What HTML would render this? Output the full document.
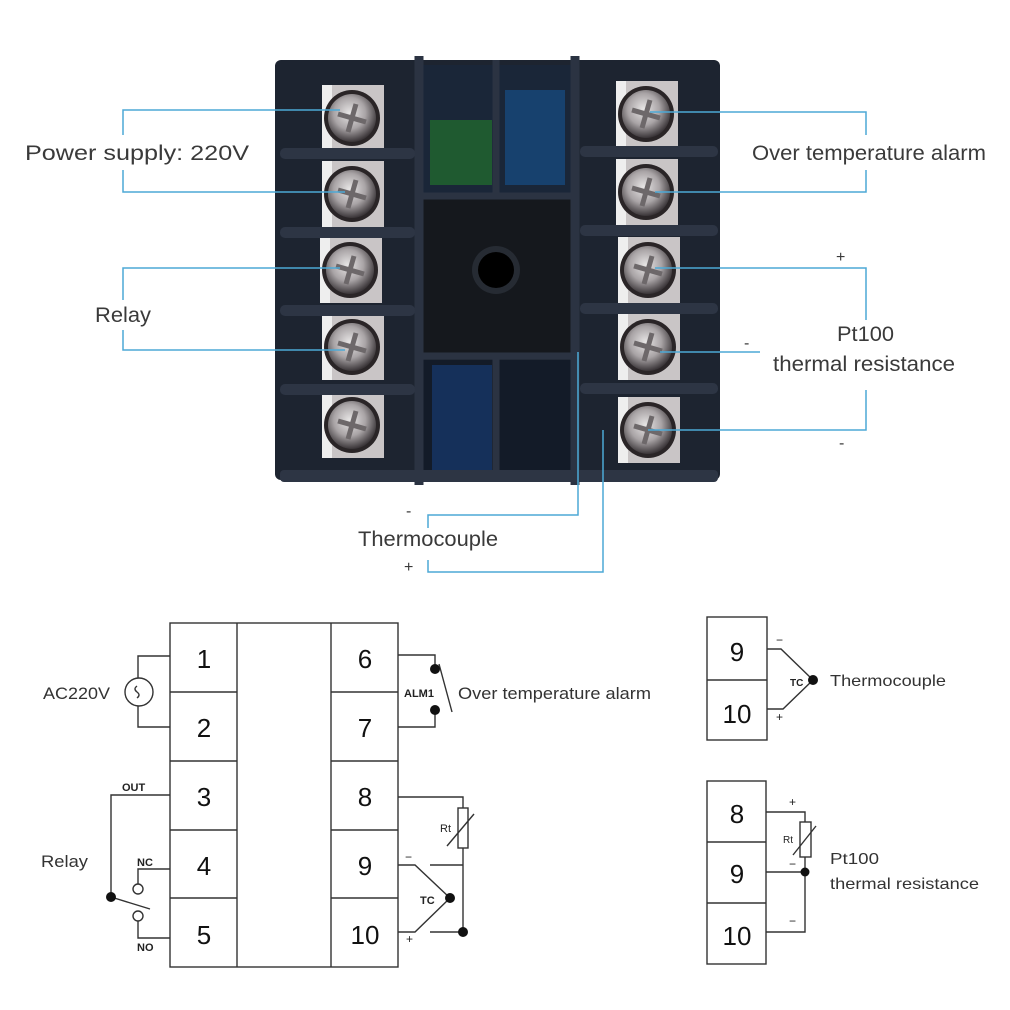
<!DOCTYPE html>
<html><head><style>
html,body{margin:0;padding:0;background:#fff;}
svg{display:block;font-family:"Liberation Sans",Arial,sans-serif;}
</style></head><body>
<svg width="1010" height="1010" viewBox="0 0 1010 1010" xmlns="http://www.w3.org/2000/svg">
<defs>
<radialGradient id="sc" cx="45%" cy="40%" r="60%">
<stop offset="0" stop-color="#e8e6e6"/><stop offset="0.55" stop-color="#a9a4a6"/><stop offset="1" stop-color="#3a3538"/>
</radialGradient>
<g id="term">
<rect x="-30" y="-33" width="62" height="66" fill="#c9c5c6"/>
<rect x="-30" y="-33" width="10" height="66" fill="#eeeeee"/>
<circle r="28" fill="#2a2527"/>
<circle r="24" fill="url(#sc)"/>
<path d="M-14 -4 L14 4 M-4 14 L4 -14" stroke="#6d686a" stroke-width="5"/>
</g>
</defs>
<rect width="1010" height="1010" fill="#fff"/>
<rect x="275" y="60" width="445" height="420" rx="6" fill="#1d2430"/>
<rect x="423" y="65" width="150" height="128" fill="#1a2638"/>
<rect x="430" y="120" width="62" height="65" fill="#1f5a30"/>
<rect x="505" y="90" width="60" height="95" fill="#17416e"/>
<rect x="423" y="195" width="150" height="160" fill="#15181d"/>
<circle cx="496" cy="270" r="24" fill="#262b33"/>
<circle cx="496" cy="270" r="18" fill="#000"/>
<rect x="423" y="360" width="150" height="115" fill="#131b28"/>
<rect x="432" y="365" width="60" height="105" fill="#15305a"/>
<line x1="496" y1="60" x2="496" y2="195" stroke="#2b3342" stroke-width="7"/>
<line x1="496" y1="355" x2="496" y2="482" stroke="#2b3342" stroke-width="7"/>
<line x1="420" y1="196" x2="575" y2="196" stroke="#2b3342" stroke-width="7"/>
<line x1="420" y1="356" x2="575" y2="356" stroke="#2b3342" stroke-width="7"/>
<line x1="419" y1="56" x2="419" y2="485" stroke="#2b3342" stroke-width="9"/>
<line x1="575" y1="56" x2="575" y2="485" stroke="#2b3342" stroke-width="9"/>
<use href="#term" x="352" y="118"/><use href="#term" x="352" y="194"/><use href="#term" x="350" y="270"/><use href="#term" x="352" y="347"/><use href="#term" x="352" y="425"/>
<use href="#term" x="646" y="114"/><use href="#term" x="646" y="192"/><use href="#term" x="648" y="270"/><use href="#term" x="648" y="347"/><use href="#term" x="648" y="430"/>
<g fill="#2d3544">
<rect x="280" y="148" width="135" height="11" rx="5"/><rect x="280" y="227" width="135" height="11" rx="5"/><rect x="280" y="305" width="135" height="11" rx="5"/><rect x="280" y="384" width="135" height="11" rx="5"/>
<rect x="580" y="146" width="138" height="11" rx="5"/><rect x="580" y="225" width="138" height="11" rx="5"/><rect x="580" y="303" width="138" height="11" rx="5"/><rect x="580" y="383" width="138" height="11" rx="5"/>
<rect x="280" y="470" width="438" height="12" rx="4"/>
</g>
<g stroke="#4da9d6" stroke-width="1.5" fill="none">
<path d="M340 110 H123 V135 M123 170 V192 H345"/>
<path d="M340 268 H123 V300 M123 330 V350 H345"/>
<path d="M650 112 H866 V135 M866 170 V192 H655"/>
<path d="M655 268 H866 V320 M866 390 V430 H648"/>
<path d="M660 352 H760"/>
<path d="M578 352 V515 H428 V528"/>
<path d="M603 430 V572 H428 V560"/>
</g>
<g fill="#3a3a3a" font-size="21">
<text x="25" y="160" textLength="224" lengthAdjust="spacingAndGlyphs">Power supply: 220V</text>
<text x="95" y="322" textLength="56" lengthAdjust="spacingAndGlyphs">Relay</text>
<text x="752" y="160" textLength="234" lengthAdjust="spacingAndGlyphs">Over temperature alarm</text>
<text x="837" y="341" textLength="57" lengthAdjust="spacingAndGlyphs">Pt100</text>
<text x="773" y="371" textLength="182" lengthAdjust="spacingAndGlyphs">thermal resistance</text>
<text x="358" y="546" textLength="140" lengthAdjust="spacingAndGlyphs">Thermocouple</text>
<text x="836" y="262" font-size="16">+</text>
<text x="744" y="348" font-size="16">-</text>
<text x="839" y="448" font-size="16">-</text>
<text x="406" y="516" font-size="16">-</text>
<text x="404" y="572" font-size="16">+</text>
</g>
<g stroke="#333" stroke-width="1.4" fill="none">
<rect x="170" y="623" width="228" height="344"/>
<line x1="237" y1="623" x2="237" y2="967"/><line x1="331" y1="623" x2="331" y2="967"/>
<path d="M170 692H237M170 761H237M170 830H237M170 898H237"/>
<path d="M331 692H398M331 761H398M331 830H398M331 898H398"/>
<path d="M170 656H138V678M138 706V727H170"/>
<circle cx="139" cy="692" r="14"/>
<path d="M137 686 q-4 3 0 6 q4 3 0 6"/>
<path d="M170 795H111V897"/>
<path d="M170 869H138V884"/><circle cx="138" cy="889" r="5"/><circle cx="138" cy="916" r="5"/>
<path d="M138 921V938H170"/>
<line x1="111" y1="897" x2="150" y2="909"/>
<path d="M398 655H435V670M398 727H435V710"/>
<line x1="439" y1="664" x2="452" y2="712"/>
<path d="M398 797H463V808M463 848V932"/>
<rect x="458" y="808" width="10" height="40"/>
<path d="M447 846L474 814"/>
<path d="M398 865H415L450 898L415 932H398"/>
<path d="M430 865H463M430 932H463"/>
<rect x="707" y="617" width="60" height="123"/><line x1="707" y1="680" x2="767" y2="680"/>
<path d="M767 649H781L813 680L783 709H767"/>
<rect x="707" y="781" width="59" height="183"/>
<path d="M707 842H766M707 903H766"/>
<path d="M766 812H805V822M805 857V932H766M766 872H805"/>
<rect x="800" y="822" width="11" height="35"/>
<path d="M793 855L816 826"/>
</g>
<g fill="#111">
<circle cx="111" cy="897" r="5"/><circle cx="435" cy="669" r="5"/><circle cx="435" cy="710" r="5"/>
<circle cx="450" cy="898" r="5"/><circle cx="463" cy="932" r="5"/>
<circle cx="813" cy="680" r="5"/><circle cx="805" cy="872" r="4.5"/>
</g>
<g fill="#111" font-size="26" text-anchor="middle">
<text x="204" y="668">1</text><text x="204" y="737">2</text><text x="204" y="806">3</text><text x="204" y="875">4</text><text x="204" y="944">5</text>
<text x="365" y="668">6</text><text x="365" y="737">7</text><text x="365" y="806">8</text><text x="365" y="875">9</text><text x="365" y="944">10</text>
<text x="737" y="661">9</text><text x="737" y="723">10</text>
<text x="737" y="823">8</text><text x="737" y="883">9</text><text x="737" y="945">10</text>
</g>
<g fill="#333" font-size="17">
<text x="43" y="699" textLength="67" lengthAdjust="spacingAndGlyphs">AC220V</text>
<text x="458" y="699" textLength="193" lengthAdjust="spacingAndGlyphs">Over temperature alarm</text>
<text x="41" y="867" textLength="47" lengthAdjust="spacingAndGlyphs">Relay</text>
<text x="830" y="686" font-size="16" textLength="116" lengthAdjust="spacingAndGlyphs">Thermocouple</text>
<text x="830" y="864" font-size="16" textLength="49" lengthAdjust="spacingAndGlyphs">Pt100</text>
<text x="830" y="889" font-size="16" textLength="149" lengthAdjust="spacingAndGlyphs">thermal resistance</text>
</g>
<g fill="#222" font-size="11" font-weight="bold">
<text x="122" y="791">OUT</text><text x="137" y="866">NC</text><text x="137" y="951">NO</text>
<text x="404" y="697">ALM1</text><text x="440" y="832" font-weight="normal">Rt</text>
<text x="420" y="904">TC</text><text x="790" y="686" font-size="10">TC</text>
<text x="783" y="843" font-size="10" font-weight="normal">Rt</text>
</g>
<g fill="#222" font-size="12">
<text x="405" y="861">−</text><text x="406" y="943">+</text>
<text x="776" y="644">−</text><text x="776" y="721">+</text>
<text x="789" y="806">+</text><text x="789" y="868">−</text><text x="789" y="925">−</text>
</g>
</svg>
</body></html>
